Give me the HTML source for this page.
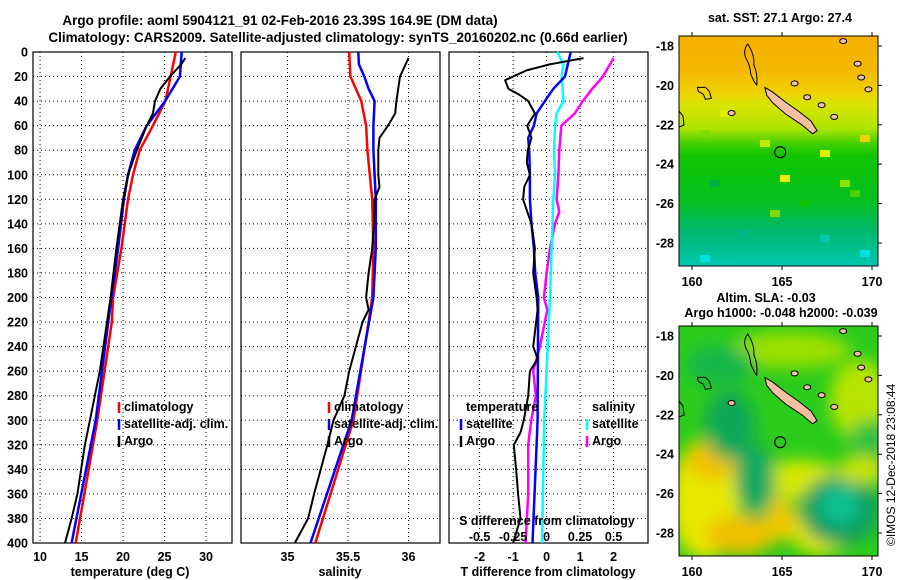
<!DOCTYPE html>
<html><head><meta charset="utf-8"><style>
html,body{margin:0;padding:0;background:#fff;}
svg{display:block;font-family:"Liberation Sans",sans-serif;font-weight:bold;}
</style></head><body>
<svg id="chart" width="900" height="580" viewBox="0 0 900 580" xmlns="http://www.w3.org/2000/svg">
<defs>
<linearGradient id="sstg" x1="0" y1="0" x2="0" y2="1">
<stop offset="0" stop-color="#f5b000"/><stop offset="0.15" stop-color="#f4b800"/>
<stop offset="0.24" stop-color="#f0d000"/><stop offset="0.3" stop-color="#d8e400"/>
<stop offset="0.4" stop-color="#b0e400"/><stop offset="0.47" stop-color="#40d000"/>
<stop offset="0.52" stop-color="#10c400"/><stop offset="0.72" stop-color="#04c020"/>
<stop offset="0.85" stop-color="#00b870"/><stop offset="1" stop-color="#00c8b0"/>
</linearGradient>
<filter id="blur" x="-50%" y="-50%" width="200%" height="200%"><feGaussianBlur stdDeviation="8"/></filter>
<clipPath id="m1c"><rect x="679" y="36" width="199" height="230"/></clipPath>
<clipPath id="m2c"><rect x="679" y="326" width="199" height="230"/></clipPath>
</defs>
<g id="titles">
<text x="280" y="25" font-size="13.5" text-anchor="middle">Argo profile: aoml 5904121_91 02-Feb-2016 23.39S 164.9E (DM data)</text>
<text x="338" y="42" font-size="13.5" text-anchor="middle">Climatology: CARS2009. Satellite-adjusted climatology: synTS_20160202.nc (0.66d earlier)</text>
</g>
<g id="panels"></g>
<g id="maps">
<g clip-path="url(#m1c)">
<rect x="679" y="36" width="199" height="230" fill="url(#sstg)"/>
<g id="sstnoise"></g>
</g>
<g clip-path="url(#m2c)">
<rect x="679" y="326" width="199" height="230" fill="#2ccc1c"/>
<g filter="url(#blur)">
<ellipse cx="790" cy="350" rx="60" ry="18" fill="#9ee000"/>
<ellipse cx="860" cy="400" rx="30" ry="40" fill="#b8e400"/>
<ellipse cx="720" cy="365" rx="35" ry="20" fill="#18b848"/>
<ellipse cx="705" cy="500" rx="35" ry="60" fill="#e8e800"/>
<ellipse cx="712" cy="460" rx="25" ry="20" fill="#f0c000"/>
<ellipse cx="740" cy="535" rx="35" ry="20" fill="#f0c000"/>
<ellipse cx="800" cy="480" rx="40" ry="20" fill="#d8e800"/>
<ellipse cx="820" cy="530" rx="30" ry="25" fill="#e0e400"/>
<ellipse cx="780" cy="520" rx="15" ry="22" fill="#f0c800"/>
<ellipse cx="730" cy="425" rx="25" ry="35" fill="#10a858"/>
<ellipse cx="755" cy="480" rx="20" ry="35" fill="#10a860"/>
<ellipse cx="840" cy="510" rx="40" ry="35" fill="#109e60"/>
<ellipse cx="840" cy="505" rx="20" ry="20" fill="#10c090"/>
<ellipse cx="870" cy="440" rx="20" ry="20" fill="#30c040"/>
<ellipse cx="862" cy="470" rx="25" ry="14" fill="#c8e400"/>
</g>
</g>
<rect x="679" y="36" width="199" height="230" fill="none" stroke="#000"/>
<rect x="679" y="326" width="199" height="230" fill="none" stroke="#000"/>
<g id="mapdeco"></g>
<text x="780" y="22" font-size="12.5" text-anchor="middle">sat. SST: 27.1 Argo: 27.4</text>
<text x="766" y="302" font-size="12.5" text-anchor="middle">Altim. SLA: -0.03</text>
<text x="781" y="317" font-size="12.5" text-anchor="middle">Argo h1000: -0.048 h2000: -0.039</text>
<text transform="translate(895,546) rotate(-90)" font-size="12" font-weight="normal">©IMOS 12-Dec-2018 23:08:44</text>
</g>
</svg>
<script>
// ---- Data ----
const tClimDepth=[0,40,60,80,100,120,160,200,220,300,400];
const tClimVal=[26.35,25.1,23.6,22.0,21.2,20.6,19.8,18.8,18.65,16.9,14.3];
const tSatDepth=[0,20,40,60,80,100,120,160,200,300,400];
const tSatVal=[27.06,26.85,25.06,22.85,21.4,20.6,20.1,19.4,18.6,16.7,13.8];
const tArgoDepth=[5,10,20,30,40,50,60,80,100,120,160,200,260,300,320,360,380,400];
const tArgoVal=[27.5,27.0,25.65,24.5,23.85,23.6,22.85,21.65,20.6,20.0,19.2,18.5,17.2,16.0,15.4,14.5,13.8,13.0];
const sClimDepth=[0,20,40,60,80,120,160,200,220,300,400];
const sClimVal=[35.51,35.52,35.61,35.65,35.66,35.70,35.71,35.70,35.67,35.545,35.23];
const sSatDepth=[0,10,20,30,40,60,80,120,160,200,300,400];
const sSatVal=[35.585,35.59,35.635,35.67,35.72,35.71,35.71,35.73,35.73,35.71,35.53,35.19];
const sArgoDepth=[5,20,40,50,60,70,80,100,110,120,140,160,180,200,210,220,260,280,300,320,360,380,400];
const sArgoVal=[36.0,35.93,35.90,35.89,35.83,35.76,35.75,35.75,35.76,35.72,35.715,35.70,35.67,35.65,35.67,35.62,35.51,35.47,35.38,35.33,35.22,35.17,35.06];
const dTSatDepth=[0,20,30,40,50,60,70,80,100,120,140,160,180,200,300,400];
const dTSatVal=[0.72,0.55,0.2,-0.05,-0.3,-0.38,-0.55,-0.52,-0.5,-0.5,-0.45,-0.38,-0.34,-0.25,-0.27,-0.42];
const dTArgoDepth=[5,10,15,23,30,35,40,50,60,70,80,90,100,110,120,130,140,160,180,200,210,240,250,260,280,300,310,320,340,360,380,400];
const dTArgoVal=[1.1,0.1,-0.6,-1.24,-1.14,-0.8,-0.55,-0.35,-0.58,-0.45,-0.56,-0.59,-0.5,-0.67,-0.7,-0.58,-0.45,-0.35,-0.4,-0.3,-0.27,-0.4,-0.27,-0.5,-0.55,-0.68,-0.78,-0.98,-0.91,-0.85,-0.78,-1.0];
const dSSatDepth=[0,10,20,40,50,60,80,100,120,160,200,300,400];
const dSSatVal=[0.08,0.125,0.113,0.125,0.075,0.063,0.055,0.063,0.05,0.037,0.025,-0.018,-0.034];
const dSArgoDepth=[5,20,30,40,50,60,80,100,120,130,140,160,180,200,210,240,260,280,300,320,360,380,400];
const dSArgoVal=[0.5,0.42,0.34,0.27,0.21,0.11,0.095,0.088,0.075,0.095,0.063,0.025,0,-0.02,0.005,-0.05,-0.1,-0.08,-0.115,-0.137,-0.137,-0.147,-0.157];
const depthTicks=[0,20,40,60,80,100,120,140,160,180,200,220,240,260,280,300,320,340,360,380,400];
const tempTicks=[10,15,20,25,30];
const salTicks=[35,35.5,36];
const dTTicks=[-2,-1,0,1,2];
const dSTicks=[-0.5,-0.25,0,0.25,0.5];
const lonTicks=[160,165,170];
const latTicks=[-18,-20,-22,-24,-26,-28];

// ---- Scales ----
const yD=d=>52+d*1.2275;
const xT=v=>33+(v-9.15)*8.3;
const xS=v=>287.5+(v-35)*121;
const xDT=v=>546.6+v*33.5;
const xDS=v=>546.6+v*134;
const lonX=l=>692+(l-160)*18;
const latY=(l,off)=>46+off+(-18-l)*19.7;

const NS='http://www.w3.org/2000/svg';
function mk(tag,attrs,parent){const e=document.createElementNS(NS,tag);for(const k in attrs)e.setAttribute(k,attrs[k]);parent.appendChild(e);return e;}
const P=document.getElementById('panels');

function panel(x0,name,xs,ticks,tickFmt,axisTitle,titleX){
  const g=mk('g',{},P);
  
  
  depthTicks.forEach(d=>{if(d>0&&d<400)mk('line',{x1:x0,x2:x0+199,y1:yD(d),y2:yD(d),stroke:'#000','stroke-width':1,'stroke-dasharray':'1,3'},g);});
  ticks.forEach(t=>{const x=xs(t);if(x>x0+1&&x<x0+198)mk('line',{x1:x,x2:x,y1:52,y2:543,stroke:'#000','stroke-width':1,'stroke-dasharray':'1,3'},g);
    const tx=mk('text',{x:x,y:561,'font-size':12.5,'text-anchor':'middle'},g);tx.textContent=tickFmt(t);
    
    });
  mk('rect',{x:x0,y:52,width:199,height:491,fill:'none',stroke:'#000','stroke-width':1.2},g);
  const at=mk('text',{x:titleX,y:576,'font-size':12.5,'text-anchor':'middle'},g);at.textContent=axisTitle;
  
  
  return g;
}
function line(g,xs,dep,val,color,w,name){
  const pts=dep.map((d,i)=>xs(val[i]).toFixed(1)+','+yD(d).toFixed(1)).join(' ');
  const p=mk('polyline',{points:pts,fill:'none',stroke:color,'stroke-width':w,'stroke-linejoin':'round'},g);
  
  
}
function legend(g,x,y,color,label,name){
  mk('line',{x1:x,x2:x,y1:y-9,y2:y+2,stroke:color,'stroke-width':2.5},g);
  const t=mk('text',{x:x+5,y:y,'font-size':12.5},g);t.textContent=label;
  
  
}
depthTicks.forEach(d=>{const t=mk('text',{x:28,y:yD(d)+4.5,'font-size':12.5,'text-anchor':'end'},P);t.textContent=d;
  
  });

const g1=panel(33,'temperature-panel',xT,tempTicks,t=>t,'temperature (deg C)',130);
line(g1,xT,tClimDepth,tClimVal,'#f00',2.5,'temp-climatology-line');
line(g1,xT,tSatDepth,tSatVal,'#00f',2.5,'temp-satellite-line');
line(g1,xT,tArgoDepth,tArgoVal,'#000',2,'temp-argo-line');
legend(g1,119,411,'#f00','climatology','legend-climatology');
legend(g1,119,428,'#00f','satellite-adj. clim.','legend-satellite');
legend(g1,119,445,'#000','Argo','legend-argo');

const g2=panel(241,'salinity-panel',xS,salTicks,t=>t,'salinity',340);
line(g2,xS,sClimDepth,sClimVal,'#f00',2.5,'sal-climatology-line');
line(g2,xS,sSatDepth,sSatVal,'#00f',2.5,'sal-satellite-line');
line(g2,xS,sArgoDepth,sArgoVal,'#000',2,'sal-argo-line');
legend(g2,329,411,'#f00','climatology','legend-climatology');
legend(g2,329,428,'#00f','satellite-adj. clim.','legend-satellite');
legend(g2,329,445,'#000','Argo','legend-argo');

const g3=panel(449,'difference-panel',xDT,dTTicks,t=>t,'T difference from climatology',548);
line(g3,xDS,dSArgoDepth,dSArgoVal,'#f0f',2.5,'sdiff-argo-line');
line(g3,xDS,dSSatDepth,dSSatVal,'#0ff',2.5,'sdiff-satellite-line');
line(g3,xDT,dTSatDepth,dTSatVal,'#00f',2.5,'tdiff-satellite-line');
line(g3,xDT,dTArgoDepth,dTArgoVal,'#000',2,'tdiff-argo-line');
{const t=mk('text',{x:466,y:411,'font-size':12.5},g3);t.textContent='temperature';
 
 
 const s=mk('text',{x:592,y:411,'font-size':12.5},g3);s.textContent='salinity';
 
 }
legend(g3,461,428,'#00f','satellite','legend-t-satellite');
legend(g3,461,445,'#000','Argo','legend-t-argo');
legend(g3,587,428,'#0ff','satellite','legend-s-satellite');
legend(g3,587,445,'#f0f','Argo','legend-s-argo');
{const t=mk('text',{x:547,y:525,'font-size':12.5,'text-anchor':'middle'},g3);t.textContent='S difference from climatology';
 
 }
dSTicks.forEach(v=>{const t=mk('text',{x:xDS(v),y:541,'font-size':12.5,'text-anchor':'middle'},g3);t.textContent=v;
 
 });

// ---- Maps ----
const M=document.getElementById('mapdeco');
[0,290].forEach(off=>{
  lonTicks.forEach(l=>{const t=mk('text',{x:lonX(l),y:off+286,'font-size':12.5,'text-anchor':'middle'},M);t.textContent=l;
    
    
    mk('line',{x1:lonX(l),x2:lonX(l),y1:off+32,y2:off+36,stroke:'#000'},M);
    mk('line',{x1:lonX(l),x2:lonX(l),y1:off+266,y2:off+270,stroke:'#000'},M);});
  latTicks.forEach(l=>{const y=latY(l,off);const t=mk('text',{x:674,y:y+4.5,'font-size':12.5,'text-anchor':'end'},M);t.textContent=l;
    
    
    mk('line',{x1:878,x2:882,y1:y,y2:y,stroke:'#000'},M);});
  const isl=[[164.05,-20.1],[164.5,-20.35],[165.2,-20.85],[165.9,-21.3],[166.6,-21.8],[166.95,-22.3],[166.7,-22.45],[166.1,-22.0],[165.2,-21.45],[164.5,-20.9],[164.15,-20.5]];
  const pi=mk('polygon',{points:isl.map(p=>lonX(p[0]).toFixed(1)+','+latY(p[1],off).toFixed(1)).join(' '),fill:'#f5bfa0',stroke:'#000','stroke-width':1},M);
  
  
  mk('path',{d:`M${lonX(163.1)},${latY(-17.9,off)} q-5,6 -2,14 q4,6 5,16 q3,8 6,11 q1,-12 -3,-20 q1,-10 -6,-21z`,fill:'none',stroke:'#000','stroke-width':1},M);
  mk('path',{d:`M${lonX(160.3)},${latY(-20.1,off)} l8,0 4,4 2,7 -6,1 -2,-5 -5,-3z`,fill:'none',stroke:'#000','stroke-width':1},M);
  mk('path',{d:`M679,${latY(-21.3,off)} l4,5 1,9 -5,2`,fill:'none',stroke:'#000','stroke-width':1},M);
  [[168.4,-17.75],[169.2,-18.9],[169.4,-19.6],[169.8,-20.2],[165.7,-19.9],[166.4,-20.6],[167.2,-21.0],[167.9,-21.6],[162.2,-21.4]].forEach(p=>mk('ellipse',{cx:lonX(p[0]),cy:latY(p[1],off),rx:3.5,ry:2.5,fill:'#f5bfa0',stroke:'#000'},M));
  const c=mk('circle',{cx:lonX(164.9),cy:latY(-23.39,off),r:5.5,fill:'none',stroke:'#000','stroke-width':1.2},M);
  
  
});
// SST texture speckles (decorative)
const N=document.getElementById('sstnoise');
const speck=[[700,130,'#80dc00'],[720,110,'#e0ec00'],[760,140,'#c8e800'],[820,150,'#e0ec00'],[860,135,'#f0d000'],[840,180,'#90e000'],[800,200,'#10c000'],[740,230,'#00b888'],[820,235,'#00c8b0'],[860,250,'#00e0e0'],[700,255,'#00e0e0'],[770,210,'#80dc00'],[850,190,'#50d000'],[710,180,'#00b040'],[780,175,'#e8ec00']];
speck.forEach(s=>mk('rect',{x:s[0],y:s[1],width:10,height:7,fill:s[2]},N));
</script>
</body></html>
